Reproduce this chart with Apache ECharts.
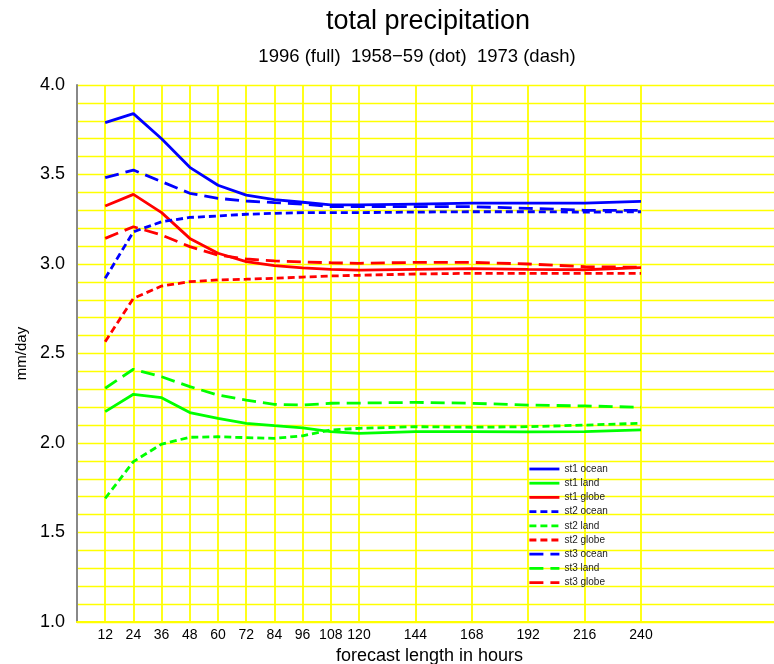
<!DOCTYPE html>
<html>
<head>
<meta charset="utf-8">
<script src="https://cdn.jsdelivr.net/npm/echarts@6/dist/echarts.min.js"></script>
<style>
  html, body { margin: 0; padding: 0; background: #fff; }
  #chart { width: 774px; height: 664px; }
</style>
</head>
<body>
<div id="chart"></div>
<script>
// forecast hours (x) and tick labels
const hours = [12, 24, 36, 48, 60, 72, 84, 96, 108, 120, 144, 168, 192, 216, 240]
const yTicks = [1.0, 1.5, 2.0, 2.5, 3.0, 3.5, 4.0]

// st1 = 1996 (full), st2 = 1958-59 (dot), st3 = 1973 (dash)
const st1Ocean = [3.79, 3.84, 3.70, 3.54, 3.44, 3.385, 3.36, 3.345, 3.33, 3.33, 3.335, 3.34, 3.34, 3.34, 3.35]
const st1Land  = [2.175, 2.272, 2.253, 2.17, 2.138, 2.11, 2.097, 2.085, 2.063, 2.054, 2.063, 2.063, 2.062, 2.063, 2.073]
const st1Globe = [3.324, 3.389, 3.287, 3.143, 3.06, 3.013, 2.991, 2.978, 2.97, 2.966, 2.97, 2.974, 2.97, 2.968, 2.98]
const st2Ocean = [2.92, 3.18, 3.236, 3.26, 3.268, 3.278, 3.283, 3.287, 3.287, 3.287, 3.29, 3.292, 3.292, 3.29, 3.292]
const st2Land  = [1.691, 1.896, 1.994, 2.032, 2.035, 2.03, 2.026, 2.04, 2.073, 2.082, 2.091, 2.088, 2.091, 2.1, 2.11]
const st2Globe = [2.566, 2.808, 2.877, 2.901, 2.911, 2.915, 2.92, 2.927, 2.933, 2.937, 2.944, 2.948, 2.948, 2.948, 2.948]
const st3Ocean = [3.482, 3.525, 3.46, 3.395, 3.367, 3.352, 3.343, 3.335, 3.32, 3.32, 3.32, 3.32, 3.311, 3.30, 3.30]
const st3Land  = [2.306, 2.412, 2.37, 2.315, 2.268, 2.24, 2.216, 2.212, 2.222, 2.223, 2.227, 2.222, 2.212, 2.207, 2.2]
const st3Globe = [3.143, 3.208, 3.162, 3.097, 3.05, 3.028, 3.017, 3.011, 3.007, 3.004, 3.009, 3.009, 3.0, 2.985, 2.982]

const FONT = '"Liberation Sans", Arial, Helvetica, sans-serif'

//线型
const DOT = [7, 4]
const DASH = [14, 7]

function makeLine(name, values, color, type) {
  return {
    name: name,
    type: 'line',
    symbol: 'none',
    data: values.map((v, i) => [hours[i], v]),
    lineStyle: { color: color, width: 2.8, type: type },
    itemStyle: { color: color },
    z: 3
  }
}

const myChart = echarts.init(document.getElementById('chart'))
const option = {
  animation: false,
  backgroundColor: '#fff',
  graphic: [
    {
      type: 'text', x: 428, y: 22,
      style: { text: 'total precipitation', font: '27px ' + FONT, fill: '#000', align: 'center', verticalAlign: 'middle' }
    },
    {
      type: 'text', x: 417, y: 57,
      style: { text: '1996 (full)  1958\u221259 (dot)  1973 (dash)', font: '18.5px ' + FONT, fill: '#000', align: 'center', verticalAlign: 'middle' }
    }
  ],
  grid: {
    left: 77,
    top: 85,
    height: 537,
    width: 705,
    outerBoundsMode: 'none'
  },
  legend: {
    orient: 'vertical',
    left: 528,
    top: 464,
    padding: 0,
    itemWidth: 30,
    itemHeight: 10,
    itemGap: 4.2,
    itemStyle: { opacity: 0 },
    lineStyle: { width: 2.8 },
    textStyle: { fontSize: 10, fontFamily: FONT, color: '#222', lineHeight: 10 }
  },
  xAxis: {
    type: 'value',
    min: 0,
    max: 300,
    name: 'forecast length in hours',
    nameLocation: 'middle',
    nameGap: 20,
    nameTextStyle: { fontSize: 18, fontFamily: FONT, color: '#000' },
    axisLine: { show: true, lineStyle: { color: '#ffff00', width: 2 } },
    axisTick: { show: false, customValues: hours },
    axisLabel: { customValues: hours, fontSize: 14, fontFamily: FONT, color: '#000', margin: 6 },
    splitLine: { show: true, lineStyle: { color: '#ffff00', width: 1.8 } }
  },
  yAxis: {
    type: 'value',
    min: 1,
    max: 4,
    interval: 0.1,
    name: 'mm/day',
    nameLocation: 'middle',
    nameRotate: 90,
    nameGap: 48,
    nameTextStyle: { fontSize: 15, fontFamily: FONT, color: '#000' },
    axisLine: { show: true, lineStyle: { color: '#888', width: 2 } },
    axisTick: { show: false },
    axisLabel: {
      customValues: yTicks,
      formatter: v => v.toFixed(1),
      fontSize: 18, fontFamily: FONT, color: '#000', margin: 12
    },
    splitLine: { show: true, lineStyle: { color: '#ffff00', width: 1.3 } }
  },
  series: [
    makeLine('st1 ocean', st1Ocean, '#0000ff', 'solid'),
    makeLine('st1 land', st1Land, '#00ff00', 'solid'),
    makeLine('st1 globe', st1Globe, '#ff0000', 'solid'),
    makeLine('st2 ocean', st2Ocean, '#0000ff', DOT),
    makeLine('st2 land', st2Land, '#00ff00', DOT),
    makeLine('st2 globe', st2Globe, '#ff0000', DOT),
    makeLine('st3 ocean', st3Ocean, '#0000ff', DASH),
    makeLine('st3 land', st3Land, '#00ff00', DASH),
    makeLine('st3 globe', st3Globe, '#ff0000', DASH)
  ]
}
myChart.setOption(option)
</script>
</body>
</html>
